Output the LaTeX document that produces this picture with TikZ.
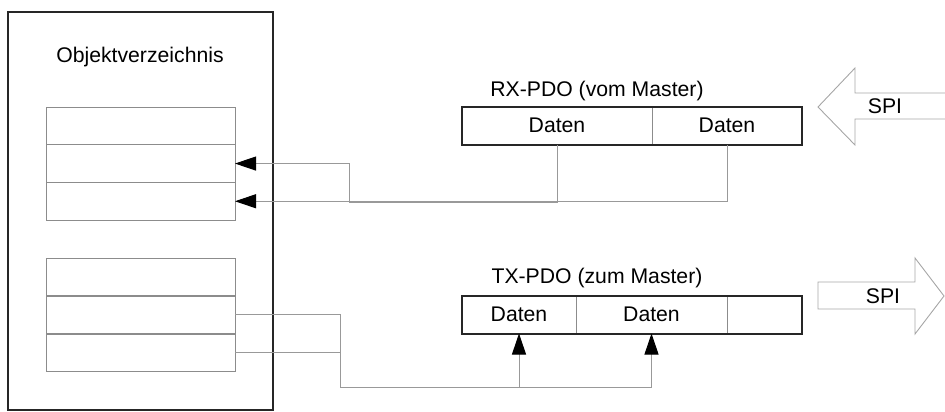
\documentclass[tikz,border=0pt]{standalone}
\usepackage{fontspec}
\setmainfont{Liberation Sans}
\usetikzlibrary{arrows.meta}
\begin{document}
\begin{tikzpicture}[x=1pt,y=-1pt,
  every node/.style={font=\fontsize{21.2}{24}\selectfont, inner sep=0pt, outer sep=0pt},
  row/.style={draw=black!45, line width=1pt, minimum width=189pt, minimum height=37.7pt, anchor=north west},
  cell/.style={draw=black!45, line width=1pt, minimum height=37.5pt, anchor=north west},
  frame/.style={draw=black!85, line width=2pt},
  conn/.style={draw=black!40, line width=1pt},
  tip/.style={-{Triangle[length=21pt,width=14pt,color=black,fill=black]}},
  spi/.style={draw=black!35, line width=0.9pt},
  label/.style={anchor=base}
]
\useasboundingbox (0,0) rectangle (945,412);

% Objektverzeichnis
\node[frame, minimum width=265pt, minimum height=398pt, anchor=north west] (obj) at (8,12) {};
\node[label] (objt) at (140,63) {Objektverzeichnis};
\node[row] (r1) at (46,107) {};
\node[row] (r2) at (46,144.7) {};
\node[row] (r3) at (46,182.4) {};
\node[row] (s1) at (46,258) {};
\node[row] (s2) at (46,296) {};
\node[row] (s3) at (46,334) {};

% RX-PDO
\node[label] (rxt) at (597,96) {RX-PDO (vom Master)};
\node[cell, minimum width=190pt] (rx1) at (462,107) {Daten};
\node[cell, minimum width=150pt] (rx2) at (652,107) {Daten};
\draw[frame] (rx1.north west) rectangle (rx2.south east);

% TX-PDO
\node[label] (txt) at (597,283) {TX-PDO (zum Master)};
\node[cell, minimum width=114pt] (tx1) at (462,296) {Daten};
\node[cell, minimum width=151pt] (tx2) at (576,296) {Daten};
\node[cell, minimum width=75pt] (tx3) at (727,296) {};
\draw[frame] (tx1.north west) rectangle (tx3.south east);

% connectors
\coordinate (j1) at (349,202);
\coordinate (j2) at (340,387);
\draw[conn, tip] (rx2.south) |- (r3.east);
\draw[conn, tip] (rx1.south) |- (j1) |- (r2.east);
\draw[conn, tip] (s2.east) -| (j2) -| (tx2.south);
\draw[conn, tip] (s3.east) -| (j2) -| (tx1.south);

% SPI arrows
\draw[spi] (946,93) -- (855,93) -- (855,68) -- (818,107) -- (855,145) -- (855,119) -- (946,119);
\node[label] (spi1) at (885,113) {SPI};
\draw[spi] (818,282) -- (915,282) -- (915,258) -- (944,296) -- (915,334) -- (915,309) -- (818,309) -- cycle;
\node[label] (spi2) at (883,303) {SPI};
\end{tikzpicture}
\end{document}
